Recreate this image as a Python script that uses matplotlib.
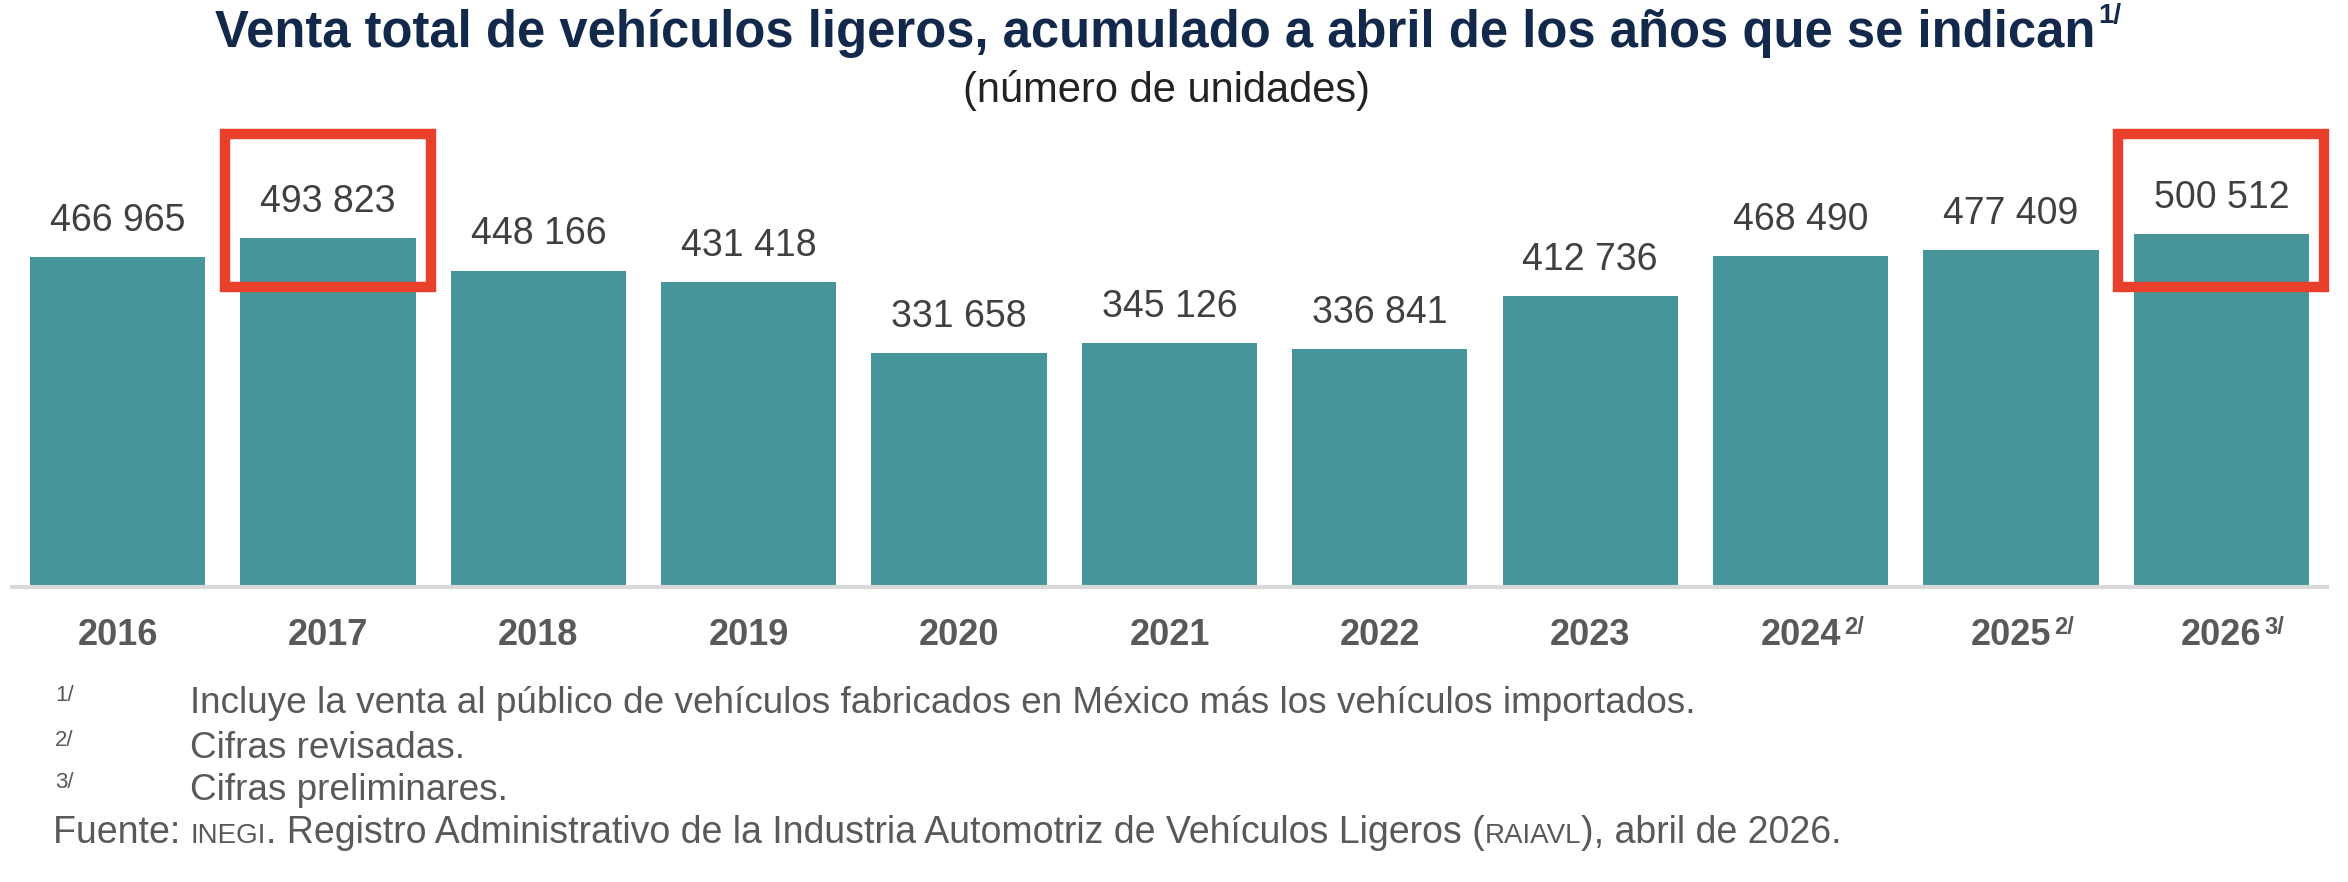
import matplotlib
matplotlib.use("Agg")
import matplotlib.pyplot as plt
from matplotlib.patches import Rectangle

plt.rcParams['font.family'] = ['Liberation Sans', 'DejaVu Sans']

# data
years = ['2016', '2017', '2018', '2019', '2020', '2021', '2022', '2023', '2024', '2025', '2026']
notes = ['', '', '', '', '', '', '', '', '2/', '2/', '3/']
ventas = [466965, 493823, 448166, 431418, 331658, 345126, 336841, 412736, 468490, 477409, 500512]
highlight = ['2017', '2026']

title = 'Venta total de vehículos ligeros, acumulado a abril de los años que se indican'
subtitle = '(número de unidades)'
footnotes = [('1/', 'Incluye la venta al público de vehículos fabricados en México más los vehículos importados.'),
             ('2/', 'Cifras revisadas.'),
             ('3/', 'Cifras preliminares.')]

bar_color = '#46959a'
grey = '#595959'
navy = '#13294b'
red = '#e8402a'


def fmt(v):
    return '{:,}'.format(v).replace(',', ' ')


fig = plt.figure(figsize=(23.48, 8.82), dpi=100)
ax = fig.add_axes([0.00527, 0.3345, 0.9856, 0.5297])

x = list(range(len(years)))
ax.bar(x, ventas, width=0.833, color=bar_color, zorder=2)
ax.set_xlim(-0.5, len(years) - 0.5)
ax.set_ylim(0, 661700)

for i, v in enumerate(ventas):
    ax.annotate(fmt(v), (i, v), xytext=(0, 13), textcoords='offset points',
                ha='center', va='bottom', fontsize=27, color='#404040')

for s in ['top', 'right', 'left']:
    ax.spines[s].set_visible(False)
ax.spines['bottom'].set_color('#d9d9d9')
ax.spines['bottom'].set_linewidth(3)
ax.set_yticks([])
ax.set_xticks(x)
ax.set_xticklabels(years, fontsize=26, fontweight='bold', color=grey)
ax.tick_params(axis='x', length=0, pad=22)

# superscripts next to year labels
for i, n in enumerate(notes):
    if n:
        ax.annotate(n, (i, 0), xytext=(31, -21), textcoords='offset points',
                    ha='left', va='top', fontsize=17, fontweight='bold', color=grey,
                    annotation_clip=False)

# red highlight boxes
for h in highlight:
    i = years.index(h)
    ax.add_patch(Rectangle((i - 0.49, 424200), 0.98, 218000, fill=False,
                           edgecolor=red, linewidth=7.5, zorder=3, clip_on=False))

# title
t = fig.text(0.492, 0.962, title, ha='center', va='center', fontsize=36.5,
             fontweight='bold', color=navy)
fig.canvas.draw()
r = fig.canvas.get_renderer()
bb = t.get_window_extent(r)
fig.text(bb.x1 / fig.bbox.width + 0.001, 0.982, '1/', ha='left', va='center',
         fontsize=20, fontweight='bold', color=navy)
fig.text(0.497, 0.897, subtitle, ha='center', va='center', fontsize=30, color='#222222')

# footnotes
ys = [0.2025, 0.151, 0.1035]
for (m, txt), y in zip(footnotes, ys):
    fig.text(0.0235, y + 0.009, m, ha='left', va='center', fontsize=16, color=grey)
    fig.text(0.081, y, txt, ha='left', va='center', fontsize=26.6, color=grey)

# source line with small caps pieces
pieces = [('Fuente: ', 27), ('INEGI', 20), ('. Registro Administrativo de la Industria Automotriz de Vehículos Ligeros (', 27),
          ('RAIAVL', 20), ('), abril de 2026.', 27)]
xpos = 0.0225
for txt, fs in pieces:
    tt = fig.text(xpos, 0.0445, txt, ha='left', va='baseline', fontsize=fs, color=grey)
    fig.canvas.draw()
    xpos = tt.get_window_extent(r).x1 / fig.bbox.width

fig.savefig('out.png', dpi=100)
